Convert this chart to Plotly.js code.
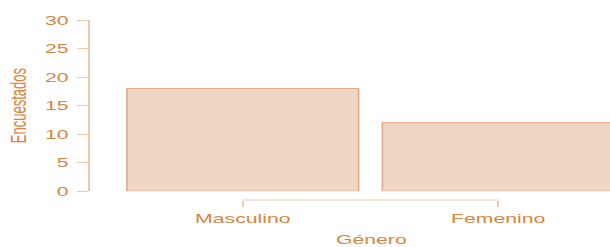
<!DOCTYPE html>
<html>
<head>
<meta charset="utf-8">
<script src="https://cdn.plot.ly/plotly-3.0.1.min.js"></script>
<style>
html,body{margin:0;padding:0;overflow:hidden;background:#fff;}
#chart{width:374px;height:247px;transform:scaleX(1.631);transform-origin:0 0;}
</style>
</head>
<body>
<div id="chart"></div>
<script>
// Data
const categories = ['Masculino', 'Femenino'];
const counts = [18, 12];
const yTicks = [0, 5, 10, 15, 20, 25, 30];
const xTitle = 'Género';
const yTitle = 'Encuestados';

const textColor = '#d9843f';
const axisColor = '#efc9ab';
const barFill = '#f0d6c4';
const barLine = '#e0ab86';
const fontFamily = '"Liberation Sans", Arial, sans-serif';

const trace = {
  type: 'bar',
  x: categories,
  y: counts,
  marker: {color: barFill, line: {color: barLine, width: 1}},
  hoverinfo: 'none'
};

const layout = {
  width: 374,
  height: 247,
  margin: {l: 55, r: 0, t: 20, b: 46.7, pad: 0},
  paper_bgcolor: '#ffffff',
  plot_bgcolor: '#ffffff',
  showlegend: false,
  bargap: 0.093,
  font: {family: fontFamily, size: 13, color: textColor},
  xaxis: {
    type: 'category',
    range: [-0.5994, 1.4377],
    anchor: 'free',
    position: 0,
    showline: false,
    showgrid: false,
    zeroline: false,
    ticks: 'outside',
    ticklen: 6,
    tickwidth: 1,
    tickcolor: axisColor,
    tickfont: {family: fontFamily, size: 13, color: textColor}
  },
  yaxis: {
    domain: [0.0488, 1],
    range: [0, 30],
    tickvals: yTicks,
    ticktext: yTicks.map(v => String(v) + '\u2009'),
    showline: true,
    linecolor: axisColor,
    linewidth: 1,
    showgrid: false,
    zeroline: false,
    ticks: 'outside',
    ticklen: 6.7,
    tickwidth: 1,
    tickcolor: axisColor,
    tickfont: {family: fontFamily, size: 13, color: textColor},
    title: {text: yTitle, font: {family: fontFamily, size: 13, color: textColor}, standoff: 7.5}
  },
  annotations: [{
    text: xTitle,
    xref: 'x', yref: 'paper',
    x: 0.5, y: 0,
    xanchor: 'center', yanchor: 'middle',
    yshift: -39,
    showarrow: false,
    font: {family: fontFamily, size: 13, color: textColor}
  }],
  shapes: [{
    type: 'line',
    xref: 'x', yref: 'paper',
    x0: 0, x1: 1, y0: 0, y1: 0,
    line: {color: axisColor, width: 1}
  }]
};

Plotly.newPlot('chart', [trace], layout, {displayModeBar: false, staticPlot: true});
</script>
</body>
</html>
